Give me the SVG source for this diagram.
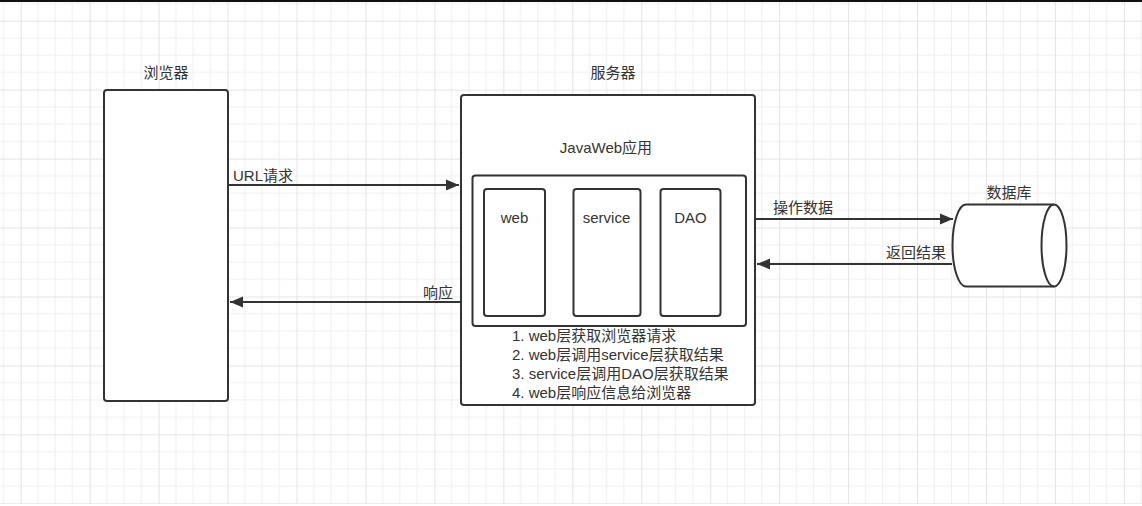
<svg xmlns="http://www.w3.org/2000/svg" width="1142" height="506" viewBox="0 0 1142 506">
<style>
text{font-family:"Liberation Sans","Noto Sans CJK SC",sans-serif;font-size:15px;fill:#333}
.box{fill:#fff;stroke:#333;stroke-width:2}
.c{text-anchor:middle}
.e{text-anchor:end}
.ln{stroke:#333;stroke-width:2;fill:none}
</style>
<defs>
<pattern id="grid" patternUnits="userSpaceOnUse" x="20.7" y="20.7" width="68.95" height="68.95">
<path d="M17.24 0V68.95M34.48 0V68.95M51.71 0V68.95M0 17.24H68.95M0 34.48H68.95M0 51.71H68.95" stroke="#f0f0f0" stroke-width="1"/>
<path d="M0.5 0V68.95M0 0.5H68.95" stroke="#e4e4e4" stroke-width="1"/>
</pattern>
<marker id="arr" markerUnits="userSpaceOnUse" markerWidth="14" markerHeight="12" refX="13" refY="6" orient="auto">
<path d="M0 0.5L13 6L0 11.5Z" fill="#333"/>
</marker>
</defs>
<rect width="1142" height="506" fill="#fff"/>
<rect width="1142" height="504" fill="url(#grid)"/>
<rect width="1142" height="2" fill="#111"/>

<g id="browser">
<rect class="box" x="104" y="90" width="124" height="311" rx="3"/>
<text class="c" x="166" y="78">浏览器</text>
</g>

<g id="server">
<rect class="box" x="461" y="95" width="294" height="310" rx="3"/>
<text class="c" x="613" y="78">服务器</text>
<text class="c" x="606" y="153">JavaWeb应用</text>
<rect class="box" x="472.5" y="175.5" width="273.5" height="150.5" rx="3"/>
<text x="512" y="341">1. web层获取浏览器请求</text>
<text x="512" y="360">2. web层调用service层获取结果</text>
<text x="512" y="379">3. service层调用DAO层获取结果</text>
<text x="512" y="398">4. web层响应信息给浏览器</text>
</g>

<g id="web">
<rect class="box" x="484" y="189" width="61" height="127" rx="3"/>
<text class="c" x="514.5" y="223">web</text>
</g>
<g id="service">
<rect class="box" x="573.5" y="189" width="67" height="127" rx="3"/>
<text class="c" x="606.5" y="223">service</text>
</g>
<g id="dao">
<rect class="box" x="660.5" y="189" width="60" height="127" rx="3"/>
<text class="c" x="690.5" y="223">DAO</text>
</g>

<g id="database">
<path class="box" d="M966 204.5H1054A12.5 41 0 0 1 1054 286.5H966A13.5 41 0 0 1 966 204.5Z"/>
<path class="ln" d="M1054 204.5A12.5 41 0 0 0 1054 286.5"/>
<text class="c" x="1009" y="198">数据库</text>
</g>

<g id="connectors">
<line class="ln" x1="229" y1="185" x2="459" y2="185" marker-end="url(#arr)"/>
<text x="233" y="181">URL请求</text>
<line class="ln" x1="460" y1="302" x2="230" y2="302" marker-end="url(#arr)"/>
<text class="e" x="453" y="298">响应</text>
<line class="ln" x1="756" y1="219" x2="953" y2="219" marker-end="url(#arr)"/>
<text x="773" y="213">操作数据</text>
<line class="ln" x1="952" y1="264" x2="757" y2="264" marker-end="url(#arr)"/>
<text class="e" x="946" y="258">返回结果</text>
</g>
</svg>
